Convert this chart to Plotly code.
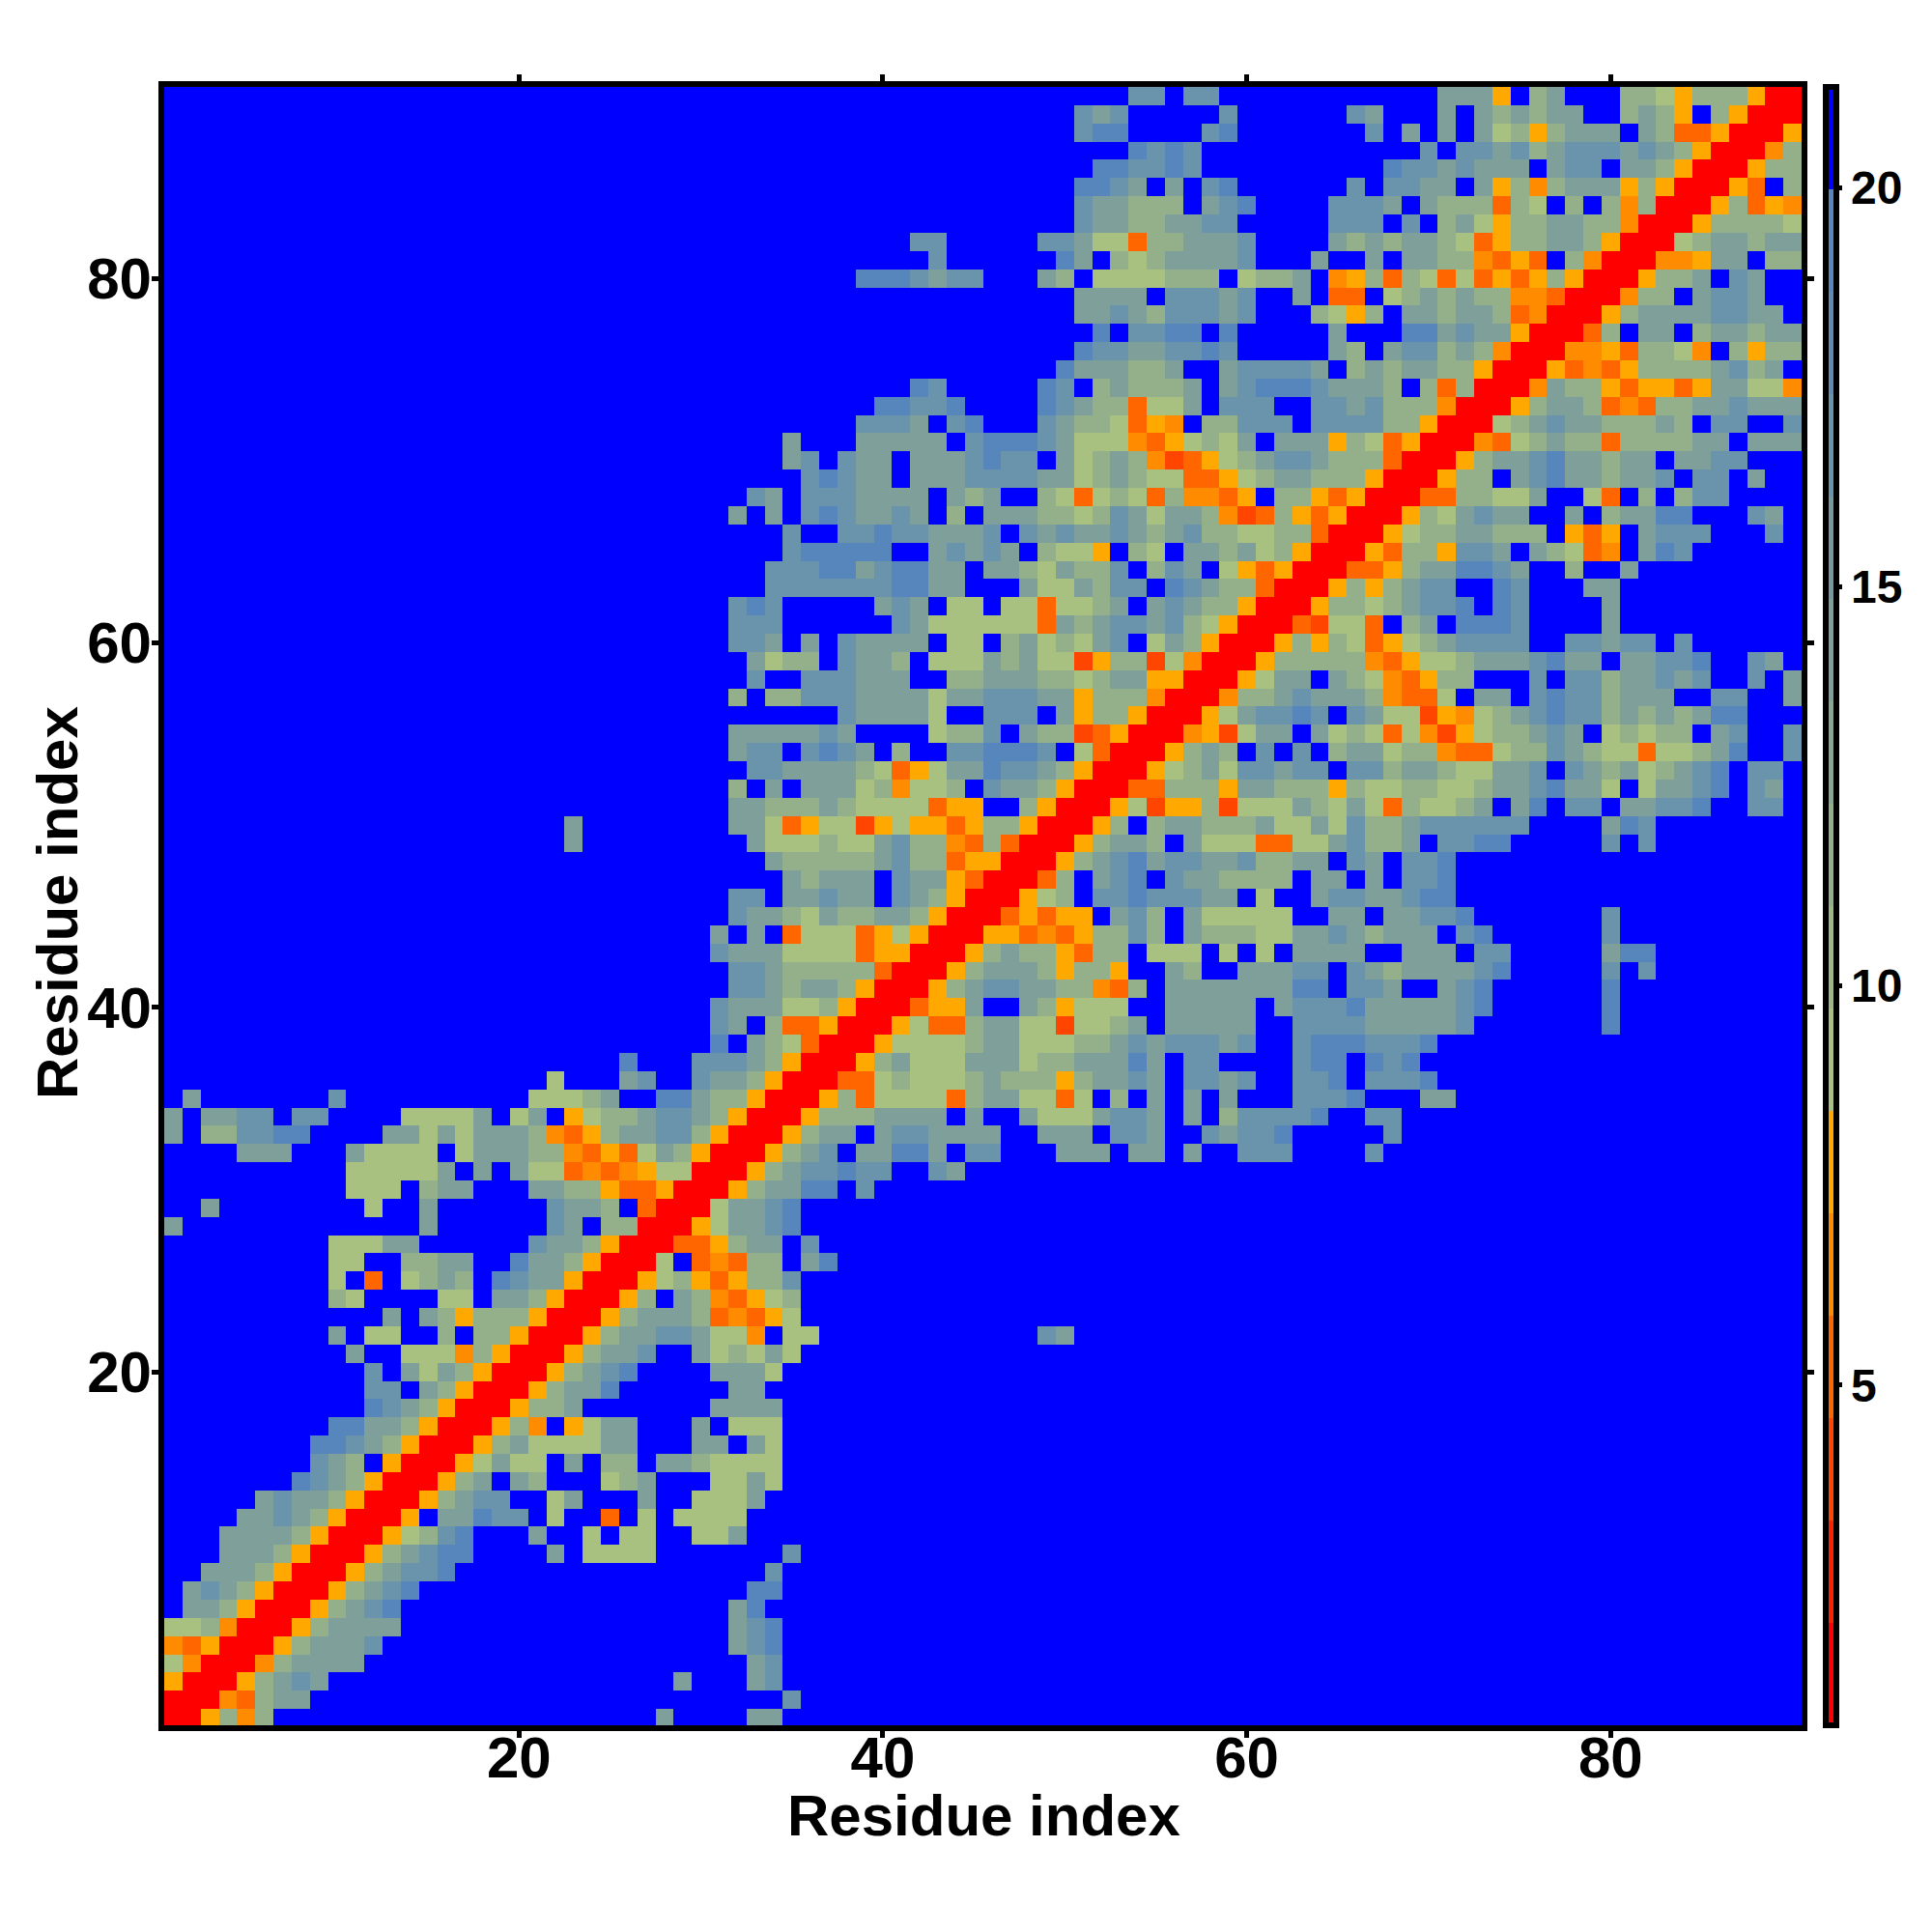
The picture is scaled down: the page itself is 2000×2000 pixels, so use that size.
import plotly.graph_objects as go

# Each character is one cell. Rows run from residue 90 down to 31.
mid_upper = [
".......................DD.DD..",
"....................DCD.....D.",
"....................DEE....DE.",
".......................EDED...",
".....................EEDDED...",
"....................EEDC.C.DE.",
"....................DCCBBB.CDE",
"....................DCCBBCCDD.",
"...........DD.....DDCAAoBBCCCD",
"............D......EC.BABCCCCD",
"........EEEDCDD...CB.AAAABBB.A",
"....................CCCC.DDDCD",
"....................CCDCBDDDCD",
".....................E.DDEE.E.",
"....................EDDCCDDED.",
"...................ECCCBBC..CD",
"...........ED.....ED.BCBBBC.CD",
".........EEDDE....EDCBBoAAC.DD",
"........DDDC.DE...DCBBAoyO.BBD",
"....C...CCCCC.DEEEDCAAAOoyABAC",
"....CD.DCC.CCCDEDD.CABCBOaoyAB",
".....DEDCC.CCCDDDDCCABCBAAooyA",
"..DC.DDDCCCC.CBC..BAoABAoBOOoy",
".C.C.DEDCCDC.B.CCCBBABDCACCBOa",
"....D..DDEDDCCCD.DCDCCDCBCDBBA",
"....DEEEEE..CDCDC.BAAy.BA.CCBC",
"...DDDEECDEECC.CCBACBBD.BDC.Ay",
"...DDDDDDDEECC...CAACBDD.EDCBB",
".DED.....CDC.AA.AAoAABC.CDCBBy",
".DDD......DCAAAAAAoCBCDDCDBAyR",
".DDC.C.DCCCC.AA.BCABACD.ACByRR",
"..CABB.DCCB.AAACBCAAayBBaAORRR",
"..D..DDDCCC..BBCCCBBABCCyyRRRy",
".B.BBDDDCCCCACCDDDCCyBBBORRROB",
".......DCCCCA..DDD.CyBByRRRyAC",
".CCCCCDC....ABBD.CBBaoyRRROyaA",
".CDD.DEDC.B..DDEEED.AoRRRyBCB.",
"..DDCCCCBAoyACCEDDCByRRRyABCAD",
".B.C.CCCABOAAB.DCCByRRRooBBByC",
".CCBBBCBAAAAoyy..ByRRRyAayyBaA",
".CCAoyAAayAyyoyBByRRRyB.BCCBBB",
"..CAAABAACDBBOoBoRRRyBCCB.CAAA",
"...CBBBBBCDBBoyyRRRyBCDECDDCCD",
"....CBCCC.DCCyoRRRoB.CDE.DCCBB",
".DD.CCDCC.DCByRRRyAB.DDEDDDCC.",
".DCCBACBBCCByRRRoyoyy.CDB.CAAA",
"C.C.oAAAoyAyRRRyyoOoyBBDB.CBBB",
"DCCCAAAAoyyRRRyBCBByoBB.AAA.A.",
".DDCBBBBBoRRRyBCCCByBBy..CB..C",
".DDCBCCByRRRyBCDDCCBBOoB.CCCCC",
"DCCCAAByRRRoyyC..CByAAA..CCCCC",
"DC.BooyRRRyAooBCCAAaAABC.CCCCC",
"E.CBAoRRRyAAAABCCAAABBCDCDDDCD",
"DDCByRRRyBCAAACCCABBCCCEC.DD..",
"CCByRRRooABAAABCBBByBCCDC.DDCD",
"BByRRRyBoAAAAoBCCAAoA.B.C.C.C.",
"ByRRRyBBBCCCC.C..CAAACDDC.C.BD",
"yRRRyBCC.CDDCCCC..CCC.DDC..DCD",
"RRRyBCD.CCEEC.DD...CCC.CC.C..D",
"RRyBCDDEDD..DC................",
]

right_upper = [
"..........CCCy.BC...BBAyBBByRR",
".....DC...C.CBCBCC..BCBy.ByRRR",
"......D.C.C.CAByBCCC.CBooyRRRy",
".........D.DDCDBCDDDCDCByRRROB",
".......EDDCDCCC.CDD.CCByRRRyBB",
".....D.DDCC.CyBOBCCCyByRRRyo.B",
"....DDDC.CBBBoBA.B.BOBRRRyBoyO",
"....DDD.D.BCAyBBCCBBORRRyBBBBA",
"....CBCBCCBAoyBBCCByRRRABCCBCC",
"...C..C.CCBBOoyo.BORRROOyCC.BB",
"BBC.OyBoBAoAoyoyByRRRyBBC.DC..",
"..C.oo.ABCBCBBOOoRRROBB.CDDC..",
"...BAyB.CCBCCBoORRRyBCCCCDDCC.",
"....C...EECDCCyRRRoB.CC.BCCBCC",
"....CB.CDDBCBORRROOyoBBAO.ByBB",
"DDDC.BCBCCBByRRRyoOoyBBBBCDBC.",
"EEEDCCCB.BoBRRROCBByoyyoyCCAAO",
"D..DDCDBBBORRRyBCCBoOoBBCCDCCC",
"DD.DDDDBByRRRABCDCCBBBCB.DD..D",
".CCCyBAoyRRROoABCBBoBBBBCC.CCC",
"CDDCBBBoRRRyBCCDECCBCC.CCDD...",
"BCCBBByRRRyBB.CDECCBCCD.DD.C..",
".BByoyRRRooBBAAC..Ao.B.BDD....",
"oByoyRRRyBACDCC..C.BCCEE...DC.",
"ABBoRRRyABBCCBBB.yoy.CDDD...D.",
"AByRRRyoBByDDC.CBAoO.CED......",
"oyRRRooyBCCEEDC..B..C.........",
"oRRRyByBCDD..ED...CC..........",
"RRRyBBABCDDE.ED....C..........",
"RRoaAAo.BC.EEED....C..........",
"RyByBAoyABCDDDD..DDCDD.D......",
"yBBBBBOoyAABCCCDECC.CCDDE..DC.",
"ACC.CBAOoyBB...D.DDBCCDCD..D.C",
"BCDCCCBOooA.CC.DEDDBCCC..DD..C",
"DDED.DCAAayOABCDEDDBCBCBCEE...",
"CC.CABAoAOayABBCDC.ABABB.CD..D",
"D.D.BCCABBOooABBDCBAAoAABCE..D",
"DCDD.DDBCCBAACCD.DCBCABCDE.DD.",
"CBBByBAABBAABCCDECCA.ACCDE.DC.",
"AACBACAoBAABC.CE.DD.CCDDE..DD.",
"CAACADBBCDDDDDD....CED........",
"ooAACDBBC.DDEE.....D.D........",
"BBCC.DC.DDE...................",
"BB.CC.C.DDE...................",
"A..CDDCCDEE...................",
"AA..CC.CCDDE.......D..........",
"AACCDCBCCC.DE......D..........",
"A.CCCC..CCC.DD.....CEE........",
"CCDD.DCBCCCCDE.....D.D........",
"CCEE.DDC..CDE......E..........",
".CDDDECCCCCDE......E..........",
"..DDDDCCCCCD.......E..........",
"..DEEEDDDE....................",
"..DEE.EDE.....................",
"..DDE.DDDE....................",
"..DDDE...CC...................",
"DDDE..DD......................",
"DE.....D......................",
"DD....D.......................",
"..............................",
]

# Residues 1-30 of rows 90 down to 31 (blue unless listed).
left_upper = {
50: "......................C.......",
49: "......................C.......",
37: ".........................E...D",
36: ".....................A...CD..D",
35: ".C.......D..........AAABC..EEC",
34: "C.CCDD.DD....AAAAC.AC.yABBCDDC",
33: "C.BBDDEE....CCACACCCBOoyBCCDDB",
32: "....CCC...CAAAA.ACCCBBOoyoACBy",
31: "..........AAAAAC.C.CAAoOoOyAAR",
}

# Rows 30 down to 1, from residue 1 onward; the rest of each row is blue.
lower_rows = [
"..........AAA.BCC...CCBByooyRRRyBCCEE.D",
"..C........A..C......DCCB.oRRRACCDE",
"C.............C......DC.BBRRRyACCDE",
".........AAACC......DCCByRRRooyBCC.D",
".........AA..BBCC..ECCByRRRA.oOoBB.CE",
".........A.o.ABCB.EDCCyRRRyAByoyBBD",
".........BA....AA.CCByRRRyB.CBOoyAB",
"............C.CByBBByRRRyBCCCBoOoyA",
".........C.AA..B.BByRRRyBCCDDCAAO.AA............DC",
"..........C..AAAOByRRRyBCCD..CABACA",
"...........D.CACByRRRyBCDE....CCCA",
"...........DD.CByRRRyBCCE......CC",
"...........EDCByRRRyBBC.......CCCC",
".........EECCByRRRyBO.yACC...C.AAA",
"........EEDCByRRRyBCAAAACC...CC.CA",
"........DCB.yRRRyACAA.C.BB.CCBAAAA",
".......EDCByRRRyBC.CB...ABC...AACA",
".....CDCCByRRRyBCDD..AC...C..AAAC",
"....CCDCByRRRy.CCEDD.A..o.A.AAAA",
"...CCCCByRRRyABDE...C..A.AA..AAC",
"...CCCByRRRyBCDEE....C.AAAA.......D",
"..CCCByRRRyBCDDE.................D",
".CDCByRRRyBCDE..................EE",
".CCByRRRyBCDE..................CE",
"AABORRRyBCCCC..................CDE",
"OoyRRRyBCCCD...................CDE",
"AORRROBCCCC.....................CD",
"yRRRyBCDC...................C...CD",
"RRROoBCC..........................D",
"RRyBOB.....................C....CC",
]

# Data value represented by each character (centre of its colour band).
value_of_code = {"R": 1.38, "a": 3.95, "o": 5.23, "O": 6.51, "y": 7.8, "A": 9.08,
                 "B": 11.64, "C": 14.2, "D": 16.77, "E": 19.34, ".": 20.62}

band_colors = ["#FF0000", "#FF2200", "#FF4500", "#FF6600", "#FF8C00", "#FFA800",
               "#A8C080", "#9DB885", "#93B08B", "#88A892", "#7FA09A", "#75999F",
               "#6A93AC", "#608BB2", "#5686BC", "#0000FF"]
residues = list(range(1, 91))
tick_values = [20, 40, 60, 80]
bar_ticks = [5, 10, 15, 20]
z_low, z_high = 0.74, 21.26
axis_title = "Residue index"

grid = {}
for i, y in enumerate(range(90, 30, -1)):
    left = left_upper.get(y, "." * 30)
    grid[y] = left + mid_upper[i] + right_upper[i]
for i, y in enumerate(range(30, 0, -1)):
    grid[y] = lower_rows[i].ljust(90, ".")

bad = {y: len(r) for y, r in grid.items() if len(r) != 90}
if bad:
    raise SystemExit(f"bad row lengths: {bad}")

z = [[value_of_code[c] for c in grid[y]] for y in residues]

n = len(band_colors)
scale = []
for i, col in enumerate(band_colors):
    scale.append([i / n, col])
    scale.append([(i + 1) / n, col])

FONT = "Liberation Sans"
W, H = 2000, 2000
PAGE = 8  # default page margin around the figure
X0, X1, Y0, Y1 = 170, 1865, 90, 1786  # plot edges on the page
L, R, T, B = X0 - PAGE, X1 - PAGE, Y0 - PAGE, Y1 - PAGE
title_font = dict(family=FONT, size=60, color="black", weight="bold")

fig = go.Figure(go.Heatmap(
    x=residues, y=residues, z=z, zmin=z_low, zmax=z_high, colorscale=scale,
    colorbar=dict(
        x=(1889.5 - X0) / (X1 - X0), xanchor="left", xpad=0, y=0.5, yanchor="middle",
        ypad=0, len=1, lenmode="fraction", thickness=11, thicknessmode="pixels",
        outlinecolor="black", outlinewidth=6, tickmode="array", tickvals=bar_ticks,
        ticks="outside", ticklen=3, tickwidth=5, tickcolor="black",
        tickfont=dict(family=FONT, size=48, color="black", weight="bold"),
    ),
))
axis = dict(
    tickmode="array", tickvals=tick_values, ticks="outside", ticklen=7, tickwidth=5,
    tickcolor="black", showline=True, linecolor="black", linewidth=6, mirror="ticks",
    showgrid=False, zeroline=False,
    tickfont=dict(family=FONT, size=60, color="black", weight="bold"),
)
fig.update_xaxes(**axis, range=[0.5, 90.5], ticklabelstandoff=-31)
fig.update_yaxes(**axis, range=[0.6, 90.5], ticklabelstandoff=-12)
fig.add_annotation(text=axis_title, xref="paper", yref="paper", showarrow=False,
                   x=(1018 - X0) / (X1 - X0), y=-(1879 - Y1) / (Y1 - Y0),
                   xanchor="center", yanchor="middle", font=title_font)
fig.add_annotation(text=axis_title, xref="paper", yref="paper", showarrow=False, textangle=-90,
                   x=(60 - X0) / (X1 - X0), y=(Y1 - 935) / (Y1 - Y0),
                   xanchor="center", yanchor="middle", font=title_font)
fig.update_layout(
    width=W - PAGE, height=H - PAGE, paper_bgcolor="white", plot_bgcolor="white",
    margin=dict(l=L, r=W - PAGE - R, t=T, b=H - PAGE - B, autoexpand=False),
)
fig.write_html("out.html")
